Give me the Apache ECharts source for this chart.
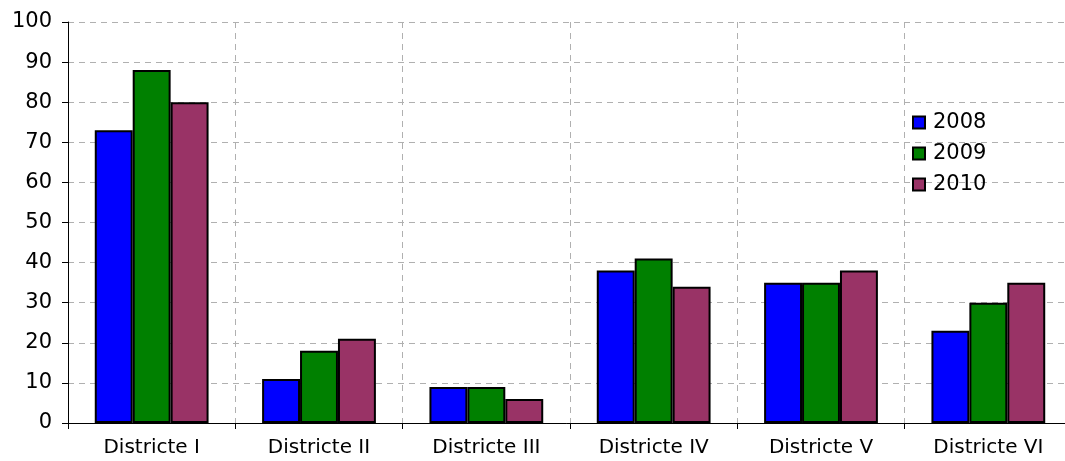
<!DOCTYPE html>
<html>
<head>
<meta charset="utf-8">
<script src="https://cdn.jsdelivr.net/npm/echarts@6/dist/echarts.min.js"></script>
<style>
html, body { margin: 0; padding: 0; background: #fff; }
#main { width: 1065px; height: 461px; }
</style>
</head>
<body>
<div id="main"></div>
<script>
var categories = ['Districte I', 'Districte II', 'Districte III', 'Districte IV', 'Districte V', 'Districte VI']
var years = ['2008', '2009', '2010']
var data2008 = [73, 11, 9, 38, 35, 23]
var data2009 = [88, 18, 9, 41, 35, 30]
var data2010 = [80, 21, 6, 34, 38, 35]
var yTicks = [0, 10, 20, 30, 40, 50, 60, 70, 80, 90, 100]

var colors = ['#0000ff', '#008000', '#993366']
var values = [data2008, data2009, data2010]

var myChart = echarts.init(document.getElementById('main'))

var series = years.map(function (y, i) {
  return {
    name: y,
    type: 'bar',
    data: values[i],
    barGap: '0%',
    barCategoryGap: '32%',
    itemStyle: {
      color: colors[i],
      borderColor: '#000',
      borderWidth: 2
    }
  }
})

myChart.setOption({
  animation: false,
  backgroundColor: '#fff',
  textStyle: { fontFamily: 'DejaVu Sans' },
  grid: { left: 68, width: 1004, top: 22, bottom: 38, outerBoundsMode: 'none', containLabel: false },
  legend: {
    orient: 'vertical',
    left: 907,
    top: 107,
    icon: 'rect',
    itemWidth: 12,
    itemHeight: 12,
    itemGap: 10,
    textStyle: { fontSize: 21, color: '#000', fontFamily: 'DejaVu Sans', padding: [0, 0, 0, 3] },
    data: years
  },
  xAxis: {
    type: 'category',
    data: categories,
    axisLine: { lineStyle: { color: '#000', width: 1 } },
    axisTick: { show: true, length: 6, inside: false, lineStyle: { color: '#000' } },
    axisLabel: { fontSize: 20, color: '#000', margin: 15 },
    splitLine: { show: true, lineStyle: { color: '#b0b0b0', type: [6, 5], width: 1 } }
  },
  yAxis: {
    type: 'value',
    min: yTicks[0],
    max: yTicks[yTicks.length - 1],
    interval: 10,
    axisLine: { show: true, lineStyle: { color: '#000', width: 1 } },
    axisTick: { show: true, length: 6, lineStyle: { color: '#000' } },
    axisLabel: { fontSize: 21, color: '#000', margin: 16 },
    splitLine: { show: true, lineStyle: { color: '#b0b0b0', type: [6, 5], width: 1 } }
  },
  series: series
})
window.onresize = myChart.resize
</script>
</body>
</html>
